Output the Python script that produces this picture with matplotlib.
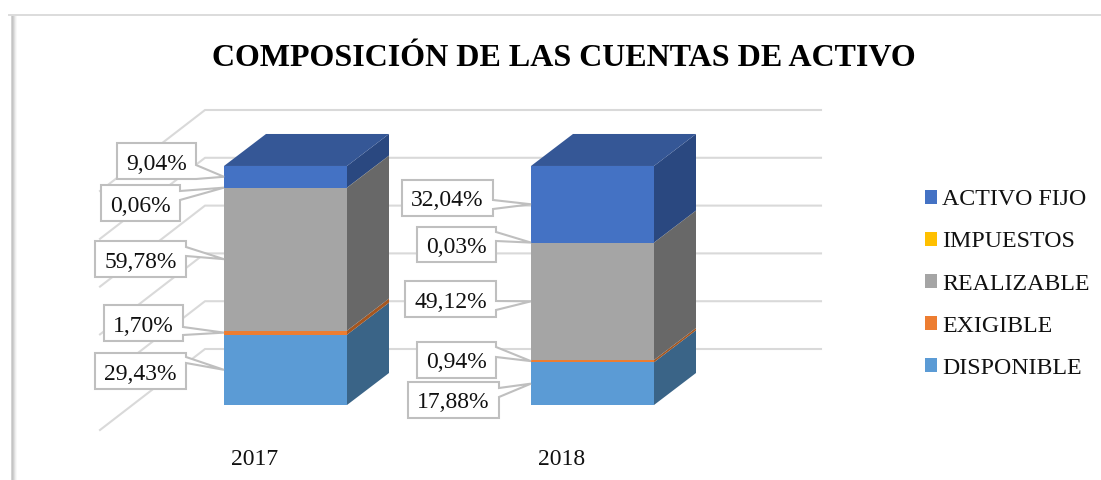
import matplotlib
matplotlib.use('Agg')
import matplotlib.pyplot as plt
from matplotlib.patches import Patch, Polygon
from matplotlib.transforms import Affine2D, ScaledTranslation

years = ['2017', '2018']
series_names = ['DISPONIBLE', 'EXIGIBLE', 'REALIZABLE', 'IMPUESTOS', 'ACTIVO FIJO']
disponible = [29.43, 17.88]
exigible = [1.70, 0.94]
realizable = [59.78, 49.12]
impuestos = [0.06, 0.03]
activo_fijo = [9.04, 32.04]
grid_levels = [0, 20, 40, 60, 80, 100]

front_colors = ['#5B9BD5', '#ED7D31', '#A5A5A5', '#FFC000', '#4472C4']
side_colors = ['#3A6487', '#A5561F', '#686868', '#A67C00', '#2A4880']
top_color = '#355796'
grid_color = '#D9D9D9'
box_color = '#BFBFBF'

W, H = 1101, 480
FONT = 'Liberation Serif'

fig = plt.figure(figsize=(W / 100, H / 100), dpi=100)
# axes bottom edge sits just above the year labels
bottom_px = 445
ax = fig.add_axes([0, (H - bottom_px) / H, 1, bottom_px / H])
ax.patch.set_alpha(0)

# scales: one category = 307 px, 100 % = 239 px
px_per_x = 307
px_per_pct = 2.39
ax.set_xlim(-285.5 / px_per_x, (W - 285.5) / px_per_x)
ax.set_ylim((405 - bottom_px) / px_per_pct, 405 / px_per_pct)

bar_w = 123 / px_per_x
depth_x = 42 / px_per_x
depth_y = 32 / px_per_pct

# walls behind the bars
wall_left = (205 - 285.5) / px_per_x
wall_right = (821 - 285.5) / px_per_x
wall_front = (100 - 285.5) / px_per_x
wall_up = (405 - 349) / px_per_pct
wall_down = (430 - 405) / px_per_pct
for g in grid_levels:
    ax.plot([wall_front, wall_left, wall_right], [g - wall_down, g + wall_up, g + wall_up],
            color=grid_color, lw=1.5, zorder=1, clip_on=False)

# stacked bars with fake 3D faces
xs = list(range(len(years)))
values = [disponible, exigible, realizable, impuestos, activo_fijo]
tips = []
for i, x in enumerate(xs):
    base = 0
    left = x - bar_w / 2
    right = x + bar_w / 2
    for s in range(len(values)):
        v = values[s][i]
        ax.bar(x, v, bar_w, bottom=base, color=front_colors[s], zorder=3)
        ax.add_patch(Polygon([(right, base), (right + depth_x, base + depth_y),
                              (right + depth_x, base + v + depth_y), (right, base + v)],
                             closed=True, facecolor=side_colors[s], edgecolor='none', zorder=2))
        tips.append((left, base + v / 2))
        base += v
    ax.add_patch(Polygon([(left, base), (left + depth_x, base + depth_y),
                          (right + depth_x, base + depth_y), (right, base)],
                         closed=True, facecolor=top_color, edgecolor='none', zorder=3))

for side in ax.spines.values():
    side.set_visible(False)
ax.set_yticks([])
ax.set_xticks(xs)
ax.set_xticklabels(years, fontsize=17, fontname=FONT, color='#111111')
ax.tick_params(axis='x', length=0, pad=3)
# the year labels sit left of the bars in the original
shift = ScaledTranslation(-31 / 100, 0, fig.dpi_scale_trans)
for lab in ax.get_xticklabels():
    lab.set_transform(lab.get_transform() + shift)

# pixel coordinates for the callouts, y going down
px = Affine2D().scale(1 / W, -1 / H).translate(0, 1) + fig.transFigure

# per label: box left, right, top, bottom and where the pointer leaves the box
boxes = [
    (95, 186, 353, 389, 357, 363),
    (104, 183, 305, 341, 327, 335),
    (95, 186, 241, 277, 247, 256),
    (101, 180, 185, 221, 191, 200),
    (117, 196, 143, 179, 165, 179),
    (408, 499, 382, 418, 388, 397),
    (417, 496, 342, 378, 347, 357),
    (405, 496, 281, 317, 301, 310),
    (417, 496, 227, 262, 232, 241),
    (402, 493, 180, 216, 200, 209),
]

n = len(values)
for i, x in enumerate(xs):
    for s in range(n):
        k = i * n + s
        tx, ty = tips[k]
        tip_px = (tx * px_per_x + 285.5, 405 - ty * px_per_pct)
        x0, x1, y0, y1, b0, b1 = boxes[k]
        ax.add_patch(Polygon([(x0, y0), (x1, y0), (x1, b0), tip_px, (x1, b1), (x1, y1), (x0, y1)],
                             closed=True, transform=px, facecolor='white', edgecolor=box_color,
                             lw=1.5, zorder=5, clip_on=False))
        label = f'{values[s][i]:.2f}%'.replace('.', ',')
        ax.text((x0 + x1) / 2, (y0 + y1) / 2 + 3, label, transform=px, ha='center', va='center',
                fontsize=17, fontname=FONT, color='#111111', zorder=6, clip_on=False)

fig.text(564 / W, 1 - 58 / H, 'COMPOSICIÓN DE LAS CUENTAS DE ACTIVO', ha='center', va='center',
         fontsize=23, fontweight='bold', fontname=FONT, color='black')

handles = [Patch(facecolor=c, label=nm) for c, nm in zip(front_colors, series_names)][::-1]
fig.legend(handles=handles, loc='center left', bbox_to_anchor=(925 / W, 1 - 284 / H), frameon=False,
           prop={'family': FONT, 'size': 17.2}, labelcolor='#111111', labelspacing=0.88,
           handlelength=0.51, handleheight=0.51, handletextpad=0.2, borderpad=0, borderaxespad=0)

# chart border, soft shadow on the left
frame = fig.add_artist
for off, col in zip([0, 1, 2, 3, 4, 5], ['#D4D4D4', '#C4C4C4', '#CFCFCF', '#DFDFDF', '#EEEEEE', '#F8F8F8']):
    frame(plt.Line2D([(10.5 + off) / W] * 2, [0, 1 - 15 / H], color=col, lw=0.72))
frame(plt.Line2D([9 / W, 1], [1 - 14.5 / H] * 2, color='#DCDCDC', lw=1.4))
frame(plt.Line2D([9 / W, 1], [1 - 479.5 / H] * 2, color='#EFEFEF', lw=0.72))

fig.savefig('out.png', dpi=100, facecolor='white')
